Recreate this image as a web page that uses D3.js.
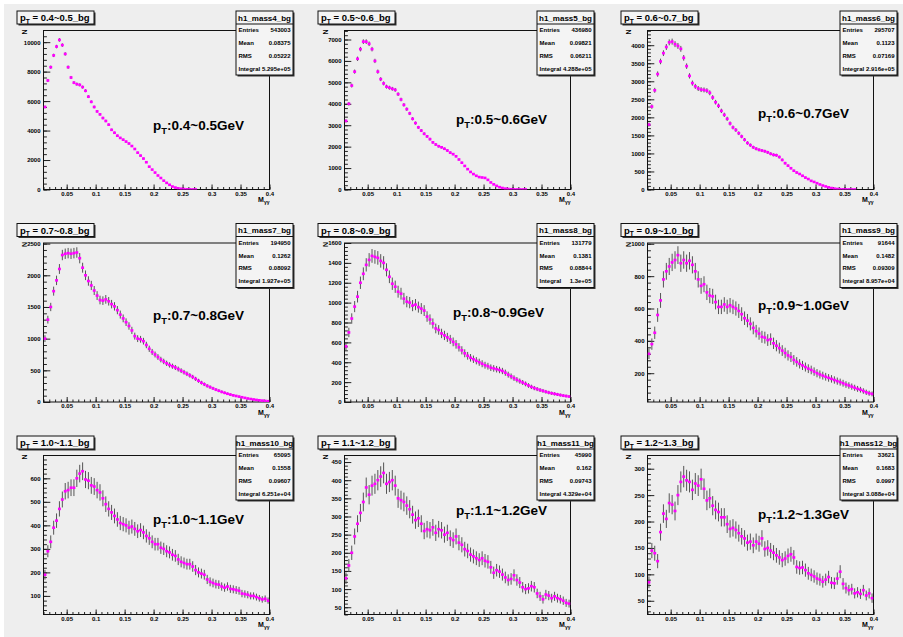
<!DOCTYPE html>
<html>
<head>
<script src="https://cdn.jsdelivr.net/npm/d3@7"></script>
<style>
  body { margin: 0; background: #fff; }
  svg text { font-family: "Liberation Sans", Arial, sans-serif; font-weight: bold; }
</style>
</head>
<body>
<script>
// ---- data ----
var ptRanges = ["0.4~0.5", "0.5~0.6", "0.6~0.7", "0.7~0.8", "0.8~0.9", "0.9~1.0", "1.0~1.1", "1.1~1.2", "1.2~1.3"];
var histNames = ["h1_mass4_bg", "h1_mass5_bg", "h1_mass6_bg", "h1_mass7_bg", "h1_mass8_bg", "h1_mass9_bg", "h1_mass10_bg", "h1_mass11_bg", "h1_mass12_bg"];
var entries = ["543003", "436980", "295707", "194950", "131779", "91644", "65095", "45990", "33621"];
var means = ["0.08375", "0.09821", "0.1123", "0.1262", "0.1381", "0.1482", "0.1558", "0.162", "0.1683"];
var rmsVals = ["0.05222", "0.06211", "0.07169", "0.08092", "0.08844", "0.09309", "0.09607", "0.09743", "0.0997"];
var integrals = ["5.295e+05", "4.288e+05", "2.916e+05", "1.927e+05", "1.3e+05", "8.957e+04", "6.251e+04", "4.329e+04", "3.088e+04"];

var yMin = [0, 0, 0, 0, 0, 22, 21, 30, 24];
var yMax = [10790, 7420, 4408, 2510, 1600, 1005, 697, 468, 325];
var yStep = [2000, 1000, 500, 500, 200, 200, 100, 50, 50];
var errScale = [1.2, 1.3, 1.3, 1.7, 1.8, 1.8, 1.5, 1.4, 1.2];

var xTicks = [0.05, 0.1, 0.15, 0.2, 0.25, 0.3, 0.35, 0.4];
var xDomain = [0.01, 0.4];
var firstBin = 0.0125, binWidth = 0.005;

var counts4 = [5600,7400,8300,9100,9700,10150,9800,9200,8300,7600,
  7250,7150,7100,6950,6700,6300,5950,5600,5300,5100,
  4850,4650,4400,4050,3850,3650,3500,3380,3250,3120,
  2950,2750,2500,2300,2100,1850,1550,1350,1150,950,
  780,600,450,320,200,130,80,50,30,15,8,3,1];
var counts5 = [3200,4000,4850,5500,6100,6550,6900,6900,6800,6550,
  6000,5500,5150,4950,4800,4750,4700,4650,4450,4200,
  3950,3750,3550,3300,3100,2900,2750,2600,2480,2350,
  2200,2100,2020,1970,1900,1820,1720,1650,1550,1400,
  1250,1100,950,820,720,640,580,560,540,450,
  330,240,170,110,70,40,25,12,6,3,2,1,1];
var counts6 = [1800,2300,2750,3200,3550,3780,3950,4080,4100,4030,
  3980,3900,3650,3420,3150,2950,2860,2800,2770,2760,
  2740,2680,2550,2420,2320,2180,2070,1960,1830,1720,
  1650,1560,1470,1380,1290,1230,1170,1130,1100,1080,
  1060,1030,990,960,950,900,820,730,660,590,
  520,470,430,380,330,290,240,210,175,140,
  110,85,60,40,25,15,8,5,3,2,1,1];
var counts7 = [1000,1300,1500,1750,1920,2100,2320,2340,2350,2340,
  2350,2360,2270,2120,2000,1910,1840,1760,1680,1610,
  1600,1620,1590,1545,1510,1450,1380,1320,1260,1200,
  1130,1040,1000,990,960,900,840,790,750,710,
  670,640,610,585,565,545,520,495,470,445,
  420,395,365,335,305,280,255,235,215,195,
  178,160,145,130,117,105,95,85,75,65,
  55,47,40,33,27,22,17,13];
var counts8 = [560,700,840,960,1060,1200,1290,1380,1430,1470,
  1460,1450,1420,1400,1330,1260,1190,1160,1110,1090,
  1040,1010,1000,970,980,955,940,920,860,830,
  790,740,725,690,670,650,630,605,580,550,
  520,490,465,445,430,415,400,385,370,360,
  345,338,330,322,312,295,275,258,240,224,
  210,196,182,166,152,140,130,120,112,103,
  95,88,82,76,70,64,60,55];
var counts9 = [320,380,450,560,650,780,830,860,885,900,
  930,880,900,880,895,870,830,780,740,750,
  700,680,675,640,610,610,625,610,620,610,
  600,585,565,540,525,505,480,460,445,425,
  420,405,410,385,370,355,340,325,310,300,
  282,270,258,248,238,228,220,210,200,192,
  185,178,171,165,158,151,145,138,130,124,
  117,110,103,98,90,82,76,72];
var counts10 = [190,290,330,390,420,470,510,545,550,560,
  560,600,620,630,595,590,570,565,550,540,
  515,490,470,455,440,425,410,405,400,390,
  395,385,375,380,370,355,345,330,320,320,
  305,300,290,285,275,270,255,245,240,235,
  235,225,210,200,195,190,170,160,155,150,
  148,140,135,140,130,128,125,122,110,108,
  105,100,100,95,90,85,88,80];
var counts11 = [130,165,200,245,280,310,340,380,360,385,
  390,400,410,420,390,395,400,385,350,345,
  340,330,320,305,290,295,280,260,265,262,
  270,255,265,262,250,255,240,235,245,228,
  222,210,205,195,190,185,180,185,178,175,
  160,145,152,148,140,132,125,128,138,125,
  118,105,100,102,108,105,88,80,72,85,
  82,75,80,75,72,68,62,60];
var counts12 = [85,145,140,125,180,215,205,235,232,220,
  250,275,285,278,275,260,272,268,280,262,
  240,244,230,222,218,208,208,195,186,188,
  184,178,172,168,160,162,155,162,158,168,
  148,150,145,141,136,132,127,130,135,138,
  132,114,112,113,108,102,99,96,92,90,
  86,90,95,84,83,92,105,82,74,70,
  72,64,66,63,70,60,64,55];
var countsList = [counts4, counts5, counts6, counts7, counts8, counts9, counts10, counts11, counts12];

// ---- layout ----
var width = 903, height = 637;
var padX = [0, 301, 604];
var padY = [0, 212.5, 425];
var frame = { left: 43.5, right: 269.5, top: 30.5, bottom: 189.5 };
var labelPos = [[153, 130], [155, 124], [154, 118], [153, 107.5], [152, 104.5], [154, 97.5], [153, 99], [155, 90], [154, 94]];
var bg = "#eeeeee";

var svg = d3.select("body").append("svg")
  .attr("width", width)
  .attr("height", height);

svg.append("rect").attr("width", width).attr("height", height).attr("fill", "#fff");
svg.append("rect").attr("x", 4).attr("y", 4)
  .attr("width", width - 4).attr("height", height - 4).attr("fill", bg);

function ptText(sel, rest, size) {
  sel.append("tspan").text("p");
  sel.append("tspan").attr("font-size", size * 0.7).attr("dy", size * 0.3).text("T");
  sel.append("tspan").attr("font-size", size).attr("dy", -size * 0.3).text(rest);
}

countsList.forEach(function (counts, i) {
  var col = i % 3, row = Math.floor(i / 3);
  var g = svg.append("g")
    .attr("transform", "translate(" + padX[col] + "," + padY[row] + ")");

  var x = d3.scaleLinear().domain(xDomain).range([frame.left, frame.right]);
  var y = d3.scaleLinear().domain([yMin[i], yMax[i]]).range([frame.bottom, frame.top]);

  var clipId = "clip" + i;
  g.append("clipPath").attr("id", clipId)
    .append("rect")
    .attr("x", frame.left).attr("y", frame.top)
    .attr("width", frame.right - frame.left)
    .attr("height", frame.bottom - frame.top);

  // axes, ticks drawn inward like ROOT
  var yMajor = d3.range(Math.ceil(yMin[i] / yStep[i]) * yStep[i], yMax[i] + 1e-6, yStep[i]);
  var minorStep = yStep[i] / 5;
  var yMinor = d3.range(Math.ceil(yMin[i] / minorStep) * minorStep, yMax[i] + 1e-6, minorStep);
  var xMinor = d3.range(0.01, 0.4001, 0.01);

  var xAxisMinor = g.append("g")
    .attr("transform", "translate(0," + frame.bottom + ")")
    .call(d3.axisBottom(x).tickValues(xMinor).tickSize(-2.5).tickSizeOuter(0).tickFormat(""));
  var xAxis = g.append("g")
    .attr("transform", "translate(0," + frame.bottom + ")")
    .call(d3.axisBottom(x).tickValues(xTicks).tickSize(-5).tickSizeOuter(0).tickPadding(2)
      .tickFormat(function (d) { return String(+d.toFixed(2)); }));
  var yAxisMinor = g.append("g")
    .attr("transform", "translate(" + frame.left + ",0)")
    .call(d3.axisLeft(y).tickValues(yMinor).tickSize(-3.4).tickSizeOuter(0).tickFormat(""));
  var yAxis = g.append("g")
    .attr("transform", "translate(" + frame.left + ",0)")
    .call(d3.axisLeft(y).tickValues(yMajor).tickSize(-6.8).tickSizeOuter(0).tickPadding(3)
      .tickFormat(function (d) { return String(d); }));

  [xAxisMinor, xAxis, yAxisMinor, yAxis].forEach(function (a) {
    a.select(".domain").remove();
    a.selectAll("line").attr("stroke", "#222");
    a.selectAll("text").attr("font-size", 6).attr("font-family", null).attr("fill", "#000");
  });
  xAxis.attr("font-family", null);
  yAxis.attr("font-family", null);

  g.append("rect")
    .attr("x", frame.left).attr("y", frame.top)
    .attr("width", frame.right - frame.left)
    .attr("height", frame.bottom - frame.top)
    .attr("fill", "none").attr("stroke", "#111").attr("stroke-width", 1);

  // histogram: error bars + markers
  var pts = counts.map(function (v, j) { return { c: firstBin + j * binWidth, v: v }; });
  var plot = g.append("g").attr("clip-path", "url(#" + clipId + ")");

  plot.selectAll("line.err")
    .data(pts)
    .enter()
    .append("line")
    .attr("class", "err")
    .attr("x1", function (d) { return x(d.c); })
    .attr("x2", function (d) { return x(d.c); })
    .attr("y1", function (d) { return y(d.v - errScale[i] * Math.sqrt(d.v)); })
    .attr("y2", function (d) { return y(d.v + errScale[i] * Math.sqrt(d.v)); })
    .attr("stroke", "#555")
    .attr("stroke-width", 1);

  plot.selectAll("rect.mk")
    .data(pts)
    .enter()
    .append("rect")
    .attr("class", "mk")
    .attr("x", function (d) { return x(d.c - binWidth / 2); })
    .attr("width", function (d) { return x(d.c + binWidth / 2) - x(d.c - binWidth / 2); })
    .attr("y", function (d) { return y(d.v) - 1.3; })
    .attr("height", 2.6)
    .attr("fill", "#ff00ff");

  // axis titles
  g.append("text")
    .attr("transform", "translate(27," + (frame.top - 1) + ") rotate(-90)")
    .attr("text-anchor", "end")
    .attr("font-size", 7)
    .text("N");
  var xt = g.append("text")
    .attr("x", frame.right)
    .attr("y", 202)
    .attr("text-anchor", "end")
    .attr("font-size", 7);
  xt.append("tspan").text("M");
  xt.append("tspan").attr("font-size", 5).attr("dy", 2).text("\u03b3\u03b3");

  // title box
  g.append("rect").attr("x", 18.5).attr("y", 12.5).attr("width", 77).attr("height", 13).attr("fill", "#333");
  g.append("rect").attr("x", 17).attr("y", 11).attr("width", 77).attr("height", 13)
    .attr("fill", "#f4f4f4").attr("stroke", "#111").attr("stroke-width", 1);
  var tt = g.append("text").attr("x", 20).attr("y", 21).attr("font-size", 9.5);
  ptText(tt, " = " + ptRanges[i] + "_bg", 9.5);

  // stats box
  var sx = 236, sy = 11, sw = 57, sh = 64;
  g.append("rect").attr("x", sx + 1.5).attr("y", sy + 1.5).attr("width", sw).attr("height", sh).attr("fill", "#333");
  g.append("rect").attr("x", sx).attr("y", sy).attr("width", sw).attr("height", sh)
    .attr("fill", "#f4f4f4").attr("stroke", "#111").attr("stroke-width", 1);
  g.append("line").attr("x1", sx).attr("x2", sx + sw).attr("y1", sy + 13).attr("y2", sy + 13)
    .attr("stroke", "#111");
  g.append("text").attr("x", sx + sw / 2).attr("y", sy + 9.8)
    .attr("text-anchor", "middle").attr("font-size", 8).text(histNames[i]);
  var rows = [["Entries", entries[i]], ["Mean", means[i]], ["RMS", rmsVals[i]], ["Integral", integrals[i]]];
  rows.forEach(function (r, k) {
    var by = sy + 13 + 12.75 * (k + 0.5) + 2;
    g.append("text").attr("x", sx + 2.5).attr("y", by).attr("font-size", 6).text(r[0]);
    g.append("text").attr("x", sx + sw - 2.5).attr("y", by).attr("text-anchor", "end")
      .attr("font-size", 6).text(r[1]);
  });

  // big label
  var bl = g.append("text").attr("x", labelPos[i][0]).attr("y", labelPos[i][1]).attr("font-size", 13.5);
  ptText(bl, ":" + ptRanges[i] + "GeV", 13.5);
});
</script>
</body>
</html>
